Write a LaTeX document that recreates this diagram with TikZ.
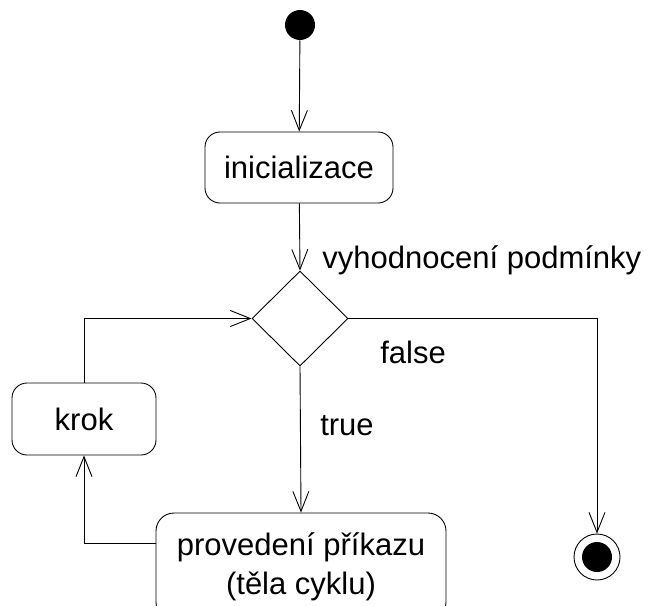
\documentclass[tikz,border=0pt]{standalone}
\usepackage{fontspec}
\setmainfont{Liberation Sans}
\usetikzlibrary{shapes.geometric,arrows.meta}
\begin{document}
\begin{tikzpicture}[x=1pt, y=-1pt, line width=0.9pt,
  every node/.style={font=\fontsize{31pt}{39pt}\selectfont},
  activity/.style={draw, rounded corners=15pt, inner sep=0pt, align=center},
  flow/.style={-{Straight Barb[length=20pt, width=16pt]}},
  lbl/.style={inner sep=0pt}]
\useasboundingbox (0,0) rectangle (652,605);
% start and end
\node[circle, fill=black, minimum size=30pt, inner sep=0pt] (start) at (300,25) {};
\node[circle, draw, minimum size=46pt, inner sep=0pt,
  path picture={\fill (path picture bounding box.center) circle (15pt);}] (final) at (597,557) {};
% activities
\node[activity, minimum width=188pt, minimum height=71pt] (init) at (299,167.5) {inicializace};
\node[diamond, draw, minimum width=96pt, minimum height=95pt, inner sep=0pt] (cond) at (300,318.5) {};
\node[activity, minimum width=144pt, minimum height=72pt] (krok) at (84,419) {krok};
\node[activity, rounded corners=18pt, minimum width=290pt, minimum height=107pt] (body) at (301,566.5) {provedení příkazu\\(těla cyklu)};
% labels
\node[lbl, anchor=base west] (condlbl) at (322,268) {vyhodnocení podmínky};
\node[lbl, anchor=base] (falselbl) at (413,363) {false};
\node[lbl, anchor=base] (truelbl) at (347,435) {true};
% flows
\draw[flow] (start) -- (init);
\draw[flow] (init) -- (cond.north);
\draw[flow] (cond.south) -- (body.north);
\draw[flow] ([yshift=23.5pt]body.west) -| (krok.south);
\draw[flow] (krok.north) |- (cond.west);
\draw[flow] (cond.east) -| (final.north);
\end{tikzpicture}
\end{document}
